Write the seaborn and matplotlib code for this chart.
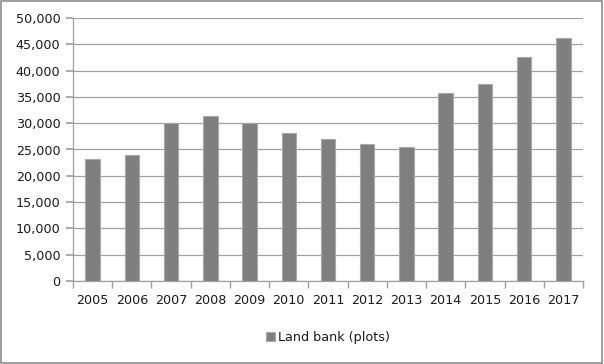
import matplotlib
matplotlib.use("Agg")
import matplotlib.pyplot as plt
import matplotlib.ticker as mticker
import seaborn as sns
import pandas as pd

years = ["2005", "2006", "2007", "2008", "2009", "2010", "2011",
         "2012", "2013", "2014", "2015", "2016", "2017"]
land_bank = [23200, 23900, 30000, 31300, 30000, 28200, 27050,
             26050, 25550, 35800, 37450, 42650, 46200]

df = pd.DataFrame({"year": years, "plots": land_bank})

sns.set_theme(style="white")
plt.rcParams["font.family"] = ["DejaVu Sans"]

fig = plt.figure(figsize=(6.04, 3.64), dpi=100)
ax = fig.add_axes([73 / 604, 1 - 281 / 364, 510 / 604, 263 / 364])

sns.barplot(data=df, x="year", y="plots", color="#7f7f7f", width=0.37,
            saturation=1, edgecolor="#a8a8a8", linewidth=0.8, ax=ax,
            label="Land bank (plots)", zorder=3)

ax.set_ylim(0, 50000)
ax.set_xlim(-0.5, len(years) - 0.5)
ax.yaxis.set_major_locator(mticker.MultipleLocator(5000))
ax.yaxis.set_major_formatter(mticker.FuncFormatter(lambda v, p: f"{int(v):,}"))
ax.grid(axis="y", color="#a0a0a0", linewidth=0.9, zorder=0)
ax.set_xlabel("")
ax.set_ylabel("")

for side in ["top", "right"]:
    ax.spines[side].set_visible(False)
ax.spines["left"].set_color("#a0a0a0")
ax.spines["bottom"].set_color("#a0a0a0")
ax.spines["left"].set_linewidth(0.9)
ax.spines["bottom"].set_linewidth(0.9)

ax.tick_params(axis="y", length=5, color="#a0a0a0", direction="out",
               labelsize=9.2, pad=4, left=True, labelcolor="#1a1a1a")
ax.set_xticks(range(len(years)))
ax.set_xticklabels(years)
ax.tick_params(axis="x", length=0, labelsize=9.2, pad=9, labelcolor="#1a1a1a")
ax.set_xticks([i + 0.5 for i in range(-1, len(years))], minor=True)
ax.tick_params(axis="x", which="minor", length=5, color="#a0a0a0",
               direction="out", bottom=True)

leg = ax.legend(loc="center", bbox_to_anchor=(0.5, -0.215), frameon=False,
                fontsize=9.2, handlelength=0.7, handleheight=0.7,
                handletextpad=0.3)
for t in leg.get_texts():
    t.set_color("#1a1a1a")

fig.patches.append(plt.Rectangle((0.002, 0.003), 0.995, 0.994,
                                 transform=fig.transFigure, fill=False,
                                 edgecolor="#8c8c8c", linewidth=1.2))

fig.savefig("out.png", dpi=100)
